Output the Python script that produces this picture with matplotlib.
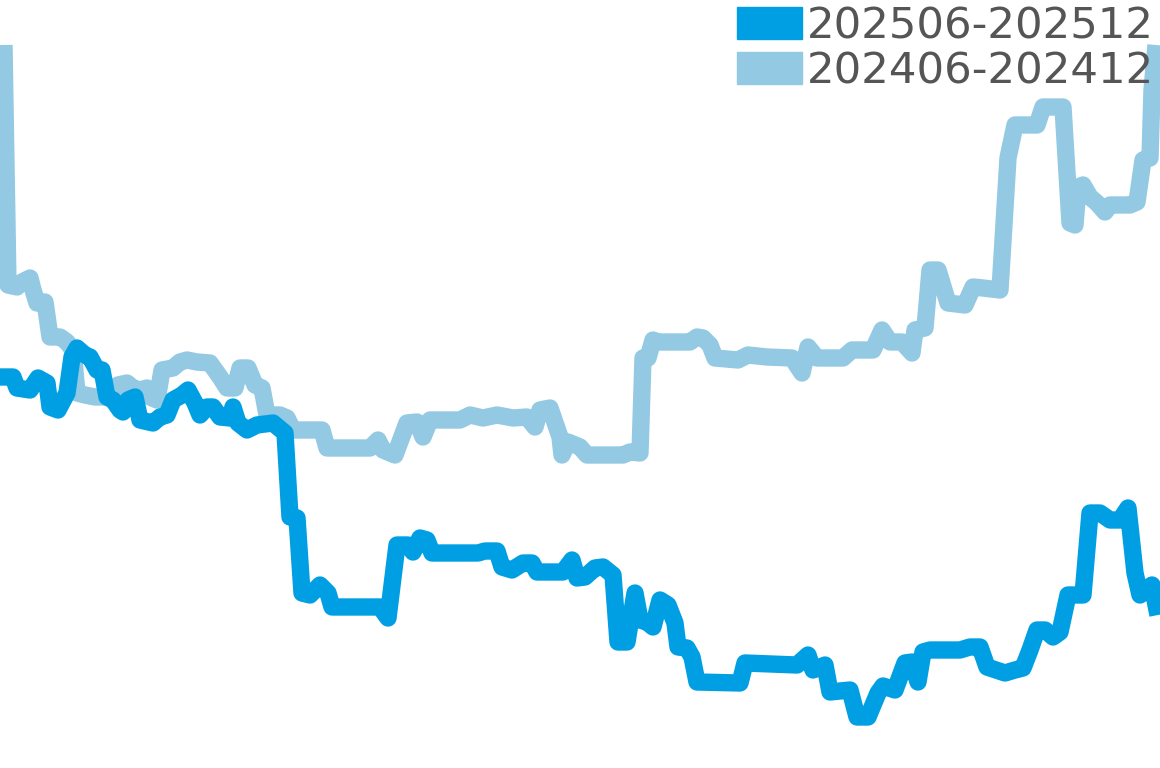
import matplotlib

matplotlib.use("Agg")

import matplotlib.pyplot as plt  # noqa: E402
import matplotlib.patches as mpatches  # noqa: E402

# Series (x: position along period, y: value)
LABEL_NEW = "202506-202512"
LABEL_OLD = "202406-202412"

new_x = [0, 13, 17, 30, 38, 47, 50, 58, 67, 72,
         77, 85, 90, 97, 102, 107, 113, 120, 123, 128,
         135, 140, 153, 160, 167, 173, 182, 188, 195, 200,
         207, 213, 220, 230, 233, 238, 247, 257, 273, 285,
         290, 297, 302, 310, 320, 328, 332, 380, 388, 397,
         408, 413, 420, 427, 432, 478, 485, 497, 502, 512,
         523, 532, 537, 563, 572, 577, 585, 595, 603, 613,
         618, 627, 635, 640, 647, 653, 660, 668, 675, 678,
         687, 692, 697, 740, 745, 797, 808, 813, 825, 830,
         850, 857, 868, 878, 883, 895, 905, 912, 918, 923,
         930, 960, 970, 980, 987, 1005, 1015, 1023, 1030, 1037,
         1045, 1053, 1060, 1068, 1083, 1090, 1100, 1110, 1120, 1128,
         1135, 1140, 1152, 1158]
new_y = [391, 391, 380, 378, 390, 385, 361, 358, 375, 411,
         420, 413, 411, 398, 398, 371, 368, 358, 356, 368,
         371, 348, 345, 351, 353, 368, 373, 378, 365, 353,
         361, 361, 351, 350, 361, 345, 338, 343, 345, 335,
         251, 250, 175, 173, 183, 175, 161, 161, 150, 223,
         223, 216, 230, 228, 215, 215, 217, 217, 201, 198,
         205, 205, 196, 196, 208, 190, 191, 200, 201, 193,
         126, 126, 175, 148, 146, 141, 168, 163, 145, 121,
         120, 111, 86, 85, 105, 103, 113, 98, 103, 76,
         78, 51, 51, 75, 82, 78, 105, 106, 86, 116,
         118, 118, 121, 121, 101, 95, 98, 100, 118, 138,
         138, 131, 136, 173, 173, 255, 255, 248, 248, 260,
         195, 173, 183, 153]

old_x = [4, 8, 17, 22, 30, 33, 37, 45, 50, 60,
         67, 73, 77, 85, 95, 110, 118, 127, 133, 140,
         147, 150, 157, 162, 173, 180, 187, 197, 210, 220,
         227, 235, 240, 248, 255, 262, 267, 280, 287, 293,
         322, 327, 370, 378, 383, 395, 407, 417, 423, 430,
         460, 470, 483, 497, 513, 527, 535, 540, 550, 560,
         562, 568, 580, 587, 623, 630, 640, 643, 648, 653,
         658, 690, 697, 703, 710, 715, 738, 748, 767, 792,
         802, 808, 817, 843, 852, 873, 882, 890, 902, 912,
         915, 925, 930, 938, 948, 965, 973, 983, 1000, 1008,
         1015, 1037, 1043, 1063, 1070, 1075, 1078, 1083, 1090, 1097,
         1105, 1110, 1130, 1137, 1143, 1150, 1152, 1156]
old_y = [723, 483, 481, 486, 490, 478, 465, 466, 431, 431,
         426, 418, 375, 373, 371, 371, 383, 385, 380, 378,
         380, 371, 368, 398, 400, 406, 408, 406, 405, 391,
         380, 380, 400, 400, 383, 380, 353, 353, 350, 338,
         338, 320, 320, 328, 318, 313, 345, 346, 331, 348,
         348, 353, 350, 353, 350, 351, 341, 358, 360, 331,
         313, 326, 321, 313, 313, 316, 315, 410, 410, 428,
         426, 426, 431, 430, 423, 410, 408, 413, 411, 410,
         395, 421, 410, 410, 418, 418, 438, 426, 426, 415,
         438, 440, 498, 498, 465, 463, 481, 480, 478, 610,
         643, 643, 661, 661, 545, 543, 581, 583, 571, 565,
         556, 563, 563, 566, 608, 610, 678, 723]

COLOR_NEW = "#009fe3"
COLOR_OLD = "#93c9e3"
LINE_WIDTH = 12.5

fig = plt.figure(figsize=(11.6, 7.68), dpi=100)
ax = fig.add_axes([0, 0, 1, 1])

ax.plot(old_x, old_y, color=COLOR_OLD, linewidth=LINE_WIDTH,
        solid_joinstyle="round", solid_capstyle="butt", zorder=2)
ax.plot(new_x, new_y, color=COLOR_NEW, linewidth=LINE_WIDTH,
        solid_joinstyle="round", solid_capstyle="butt", zorder=3)

ax.set_xlim(0, 1160)
ax.set_ylim(0, 768)
ax.axis("off")

handles = [
    mpatches.Patch(color=COLOR_NEW, label=LABEL_NEW),
    mpatches.Patch(color=COLOR_OLD, label=LABEL_OLD),
]
leg = ax.legend(
    handles=handles,
    loc="upper right",
    bbox_to_anchor=(0.995, 0.993),
    frameon=False,
    fontsize=31.3,
    handlelength=1.5,
    handleheight=0.75,
    handletextpad=0.11,
    labelspacing=0.07,
    borderaxespad=0.0,
    borderpad=0.0,
)
for text in leg.get_texts():
    text.set_color("#555555")
leg.set_zorder(5)

fig.savefig("out.png", dpi=100)
